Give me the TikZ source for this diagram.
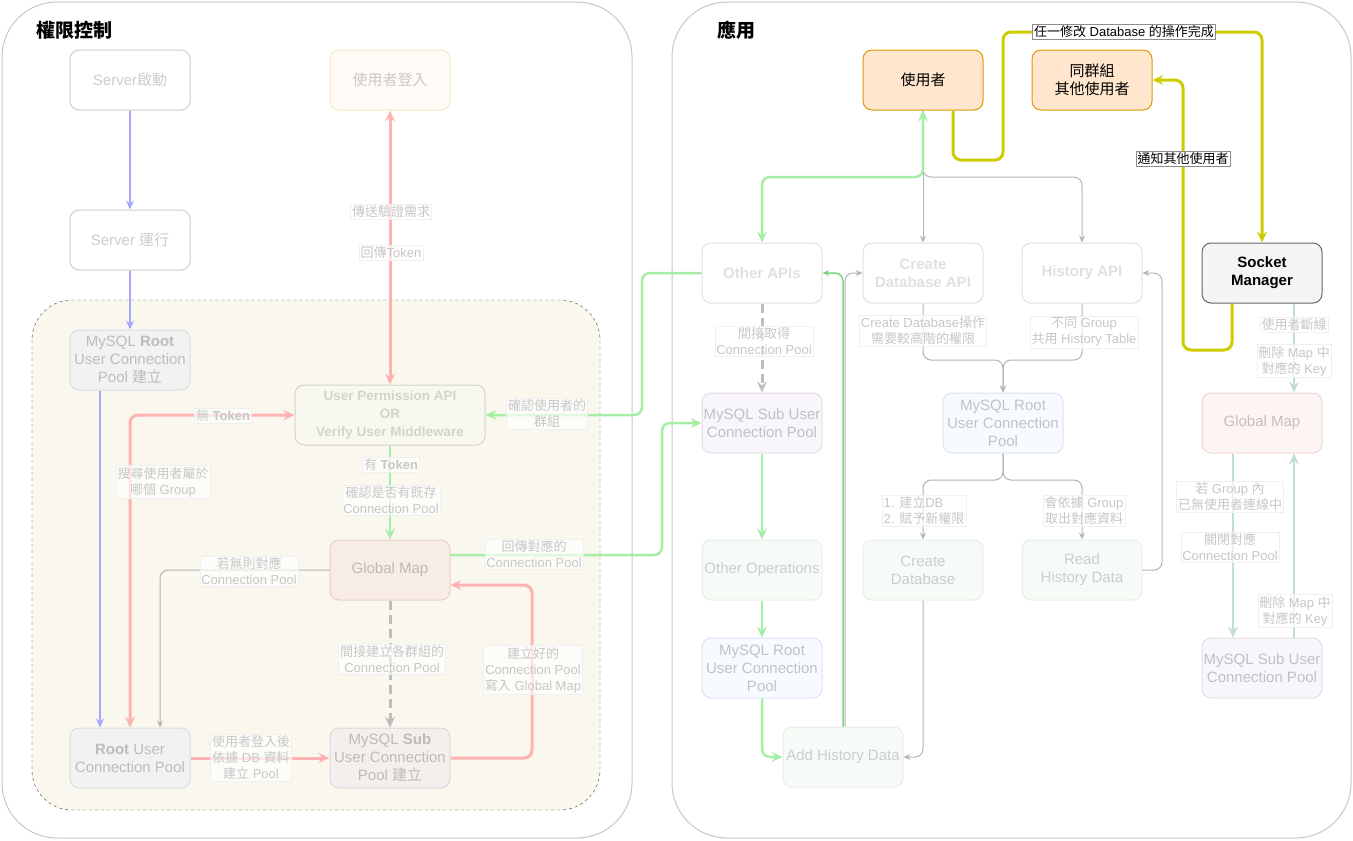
\documentclass[tikz,border=0pt]{standalone}
\usepackage{fontspec}
\setmainfont{Liberation Sans}
\newfontfamily\cjkfont{Noto Sans CJK TC}
\usetikzlibrary{arrows.meta}

% switch to the CJK family for every run of CJK characters
\XeTeXinterchartokenstate=1
\newXeTeXintercharclass\cjkclass
\newcount\cjkcnt
\cjkcnt="2E80
\loop
  \XeTeXcharclass\cjkcnt=\cjkclass
  \advance\cjkcnt by 1
\ifnum\cjkcnt<"A000 \repeat
\let\cjkseries\mdseries
\XeTeXinterchartoks 0 \cjkclass={\begingroup\cjkfont\cjkseries}
\XeTeXinterchartoks 4095 \cjkclass={\begingroup\cjkfont\cjkseries}
\XeTeXinterchartoks \cjkclass 0={\endgroup}
\XeTeXinterchartoks \cjkclass 4095={\endgroup}

\newcommand\boxfont{\fontsize{15}{18}\selectfont}
\newcommand\lblfont{\fontsize{13}{16}\selectfont}
\newcommand\titlefont{\fontsize{19}{23}\selectfont\let\cjkseries\bfseries}

\definecolor{fOrange}{HTML}{FFE6CC}
\definecolor{dOrange}{HTML}{D79B00}
\definecolor{fRed}{HTML}{F8CECC}
\definecolor{dRed}{HTML}{B85450}
\definecolor{fGreen}{HTML}{D5E8D4}
\definecolor{dGreen}{HTML}{82B366}
\definecolor{fBlue}{HTML}{DAE8FC}
\definecolor{dBlue}{HTML}{6C8EBF}
\definecolor{fPurple}{HTML}{E1D5E7}
\definecolor{dPurple}{HTML}{9673A6}
\definecolor{fGray}{HTML}{F5F5F5}
\definecolor{dGray}{HTML}{666666}
\definecolor{bgBeige}{HTML}{F9F7EE}
\definecolor{eBlue}{HTML}{A6A6FF}
\definecolor{eRed}{HTML}{FFB3B0}
\definecolor{eGreen}{HTML}{A6EDA6}
\definecolor{eGreenD}{HTML}{7FD47F}
\definecolor{eGray}{HTML}{B3B3B3}
\definecolor{eDash}{HTML}{BDBDBD}
\definecolor{eTeal}{HTML}{C2DDD9}
\definecolor{eYellow}{HTML}{CCCC00}

\tikzset{
  box/.style={draw, rounded corners=9pt, minimum width=120pt, minimum height=60pt,
    align=center, inner sep=1pt, font=\boxfont, line width=1pt},
  plainbox/.style={box, fill=white, draw=black, opacity=0.2},
  apibox/.style={box, fill=white, draw=black, opacity=0.12, font=\boxfont\bfseries},
  orangebox/.style={box, fill=fOrange, draw=dOrange},
  redbox/.style={box, fill=fRed, draw=dRed, opacity=0.22},
  greenbox/.style={box, fill=fGreen, draw=dGreen, opacity=0.18},
  bluebox/.style={box, fill=fBlue, draw=dBlue, opacity=0.22},
  purplebox/.style={box, fill=fPurple, draw=dPurple, opacity=0.22},
  graybox/.style={box, fill=fGray, draw=dGray},
  panel/.style={draw=black!22, line width=1pt, rounded corners=55pt},
  title/.style={font=\titlefont, anchor=west, inner sep=1pt},
  lbl/.style={font=\lblfont, align=center, fill=white, fill opacity=0.65,
    text opacity=1, text=black!22, draw=black!6, inner sep=1.5pt},
  lbldark/.style={font=\lblfont, align=center, fill=white, draw=black!45,
    text=black, inner sep=1.5pt},
  link/.style={rounded corners=8pt, >={Stealth[length=11pt,width=10pt,inset=4pt]}},
  thinlink/.style={rounded corners=8pt, >={Stealth[length=7pt,width=6pt,inset=2.5pt]}},
  eblue/.style={thinlink, draw=eBlue, line width=1.5pt,
    >={Stealth[length=9pt,width=8pt,inset=3pt]}},
  ered/.style={link, draw=eRed, line width=3pt},
  egreen/.style={link, draw=eGreen, line width=2.5pt},
  egray/.style={thinlink, draw=eGray, line width=1pt},
  edash/.style={link, draw=eDash, line width=3pt, dash pattern=on 9pt off 5pt},
  eteal/.style={link, draw=eTeal, line width=2pt},
  eyellow/.style={link, draw=eYellow, line width=3pt},
}

\begin{document}
\begin{tikzpicture}[x=1pt,y=-1pt]
\useasboundingbox (0,0) rectangle (1353,841);

% panels
\draw[panel] (2,2) rectangle (632,838);
\draw[panel] (672,2) rectangle (1351,838);
\draw[dashed, rounded corners=40pt, fill=bgBeige, draw=black!75] (32,300) rectangle (600,810);
\node[title] (tPerm) at (35,30) {權限控制};
\node[title] (tApp) at (716,30) {應用};

% permission side
\node[plainbox] (srvStart) at (130,80) {Server啟動};
\node[plainbox] (srvRun) at (130,240) {Server 運行};
\node[bluebox] (rootInit) at (130,360) {MySQL \textbf{Root}\\User Connection\\Pool 建立};
\node[orangebox, opacity=0.2] (login) at (390,80) {使用者登入};
\node[plainbox, opacity=0.15, minimum width=190pt, font=\fontsize{13.5}{18}\selectfont\bfseries]
  (perm) at (390,415) {User Permission API\\OR\\Verify User Middleware};
\node[redbox] (gmapL) at (390,570) {Global Map};
\node[bluebox] (rootPool) at (130,758) {\textbf{Root} User\\Connection Pool};
\node[purplebox] (subInit) at (390,758) {MySQL \textbf{Sub}\\User Connection\\Pool 建立};

% application side
\node[orangebox] (user) at (923,80) {使用者};
\node[orangebox] (peers) at (1092,80) {同群組\\其他使用者};
\node[graybox, font=\boxfont\bfseries] (socket) at (1262,273) {Socket\\Manager};
\node[apibox] (otherAPI) at (762,273) {Other APIs};
\node[apibox] (createAPI) at (923,273) {Create\\Database API};
\node[apibox] (histAPI) at (1082,273) {History API};
\node[purplebox] (subR) at (762,423) {MySQL Sub User\\Connection Pool};
\node[bluebox] (rootR) at (1003,423) {MySQL Root\\User Connection\\Pool};
\node[redbox] (gmapR) at (1262,423) {Global Map};
\node[greenbox] (otherOps) at (762,570) {Other Operations};
\node[greenbox] (createDB) at (923,570) {Create\\Database};
\node[greenbox] (readHist) at (1082,570) {Read\\History Data};
\node[bluebox] (rootR2) at (762,668) {MySQL Root\\User Connection\\Pool};
\node[purplebox] (subR2) at (1262,668) {MySQL Sub User\\Connection Pool};
\node[greenbox] (addHist) at (843,757) {Add History Data};

% connectors, permission side
\draw[eblue, ->] (srvStart) -- (srvRun);
\draw[eblue, ->] (srvRun) -- (rootInit);
\draw[eblue, ->] ([xshift=-30pt]rootInit.south) -- ([xshift=-30pt]rootPool.north);
\draw[ered, <->] (login) -- (perm);
\draw[ered, <->] (perm.west) -| (rootPool.north);
\draw[egray, ->] (gmapL.west) -| ([xshift=30pt]rootPool.north);
\draw[egreen, ->] (perm) -- (gmapL);
\draw[edash, ->] (gmapL) -- (subInit);
\draw[ered, ->] (rootPool) -- (subInit);
\draw[ered, ->] (subInit.east) -| (532,585) -- ([yshift=-15pt]gmapL.east);
\draw[egreen, ->] ([yshift=15pt]gmapL.east) -| (662,423) -- (subR.west);
\draw[egreen, ->] (otherAPI.west) -| (642,415) -- (perm.east);

% connectors, application side
\draw[eyellow, ->] ([xshift=30pt]user.south) |- (1003,160) -- (1003,32) -| (socket.north);
\draw[eyellow, ->] ([xshift=-30pt]socket.south) |- (1183,350) |- (peers.east);
\draw[egray, <->] (user.south) -- (createAPI.north);
\draw[egray, ->] (user.south) |- (1082,177) -- (histAPI.north);
\draw[egreen, <->] (user.south) |- (762,177) -- (otherAPI.north);
\draw[egray, ->] (createAPI.south) |- (1003,360) -- (rootR.north);
\draw[egray, ->] (histAPI.south) |- (1003,360) -- (rootR.north);
\draw[egray, ->] (rootR.south) |- (923,480) -- (createDB.north);
\draw[egray, ->] (rootR.south) |- (1082,480) -- (readHist.north);
\draw[egray, ->] (readHist.east) -| (1162,273) -- (histAPI.east);
\draw[egray, ->] (createDB.south) |- (addHist.east);
\draw[egray, ->] ([xshift=2pt]addHist.north) |- (createAPI.west);
\draw[thinlink, draw=eGreenD, line width=1.5pt, ->] (addHist.north) |- (otherAPI.east);
\draw[edash, ->] (otherAPI) -- (subR);
\draw[egreen, ->] (subR) -- (otherOps);
\draw[egreen, ->] (otherOps) -- (rootR2);
\draw[egreen, ->] (rootR2.south) |- (addHist.west);
\draw[eteal, ->] ([xshift=32pt]socket.south) -- ([xshift=32pt]gmapR.north);
\draw[eteal, ->] ([xshift=-29pt]gmapR.south) -- ([xshift=-29pt]subR2.north);
\draw[eteal, ->] ([xshift=32pt]subR2.north) -- ([xshift=32pt]gmapR.south);

% labels, permission side
\node[lbl] (lSend) at (391,212) {傳送驗證需求};
\node[lbl] (lToken) at (391,253) {回傳Token};
\node[lbl] (lNoTok) at (223,416) {無 \textbf{Token}};
\node[lbl] (lGroup) at (547,414) {確認使用者的\\群組};
\node[lbl] (lSearch) at (163,482) {搜尋使用者屬於\\哪個 Group};
\node[lbl] (lHasTok) at (391,465) {有 \textbf{Token}};
\node[lbl] (lCheck) at (391,500) {確認是否有既存\\Connection Pool};
\node[lbl] (lReturn) at (534,554) {回傳對應的\\Connection Pool};
\node[lbl] (lIfNone) at (249,571) {若無則對應\\Connection Pool};
\node[lbl] (lIndirect) at (392,659) {間接建立各群組的\\Connection Pool};
\node[lbl] (lWrite) at (533,670) {建立好的\\Connection Pool\\寫入 Global Map};
\node[lbl] (lBuild) at (251,758) {使用者登入後\\依據 DB 資料\\建立 Pool};

% labels, application side
\node[lbldark] (lModify) at (1124,32) {任一修改 Database 的操作完成};
\node[lbldark] (lNotify) at (1183,159) {通知其他使用者};
\node[lbl] (lHigher) at (923,331) {Create Database操作\\需要較高階的權限};
\node[lbl] (lShared) at (1084,332) {不同 Group\\共用 History Table};
\node[lbl, align=left] (lSteps) at (924,511) {1. 建立DB\\2. 賦予新權限};
\node[lbl] (lByGroup) at (1084,511) {會依據 Group\\取出對應資料};
\node[lbl] (lGet) at (764,341) {間接取得\\Connection Pool};
\node[lbl] (lOffline) at (1294,325) {使用者斷線};
\node[lbl] (lDelKey) at (1294,361) {刪除 Map 中\\對應的 Key};
\node[lbl] (lEmpty) at (1230,497) {若 Group 內\\已無使用者連線中};
\node[lbl] (lClose) at (1230,547) {關閉對應\\Connection Pool};
\node[lbl] (lDelKey2) at (1295,611) {刪除 Map 中\\對應的 Key};
\end{tikzpicture}
\end{document}
